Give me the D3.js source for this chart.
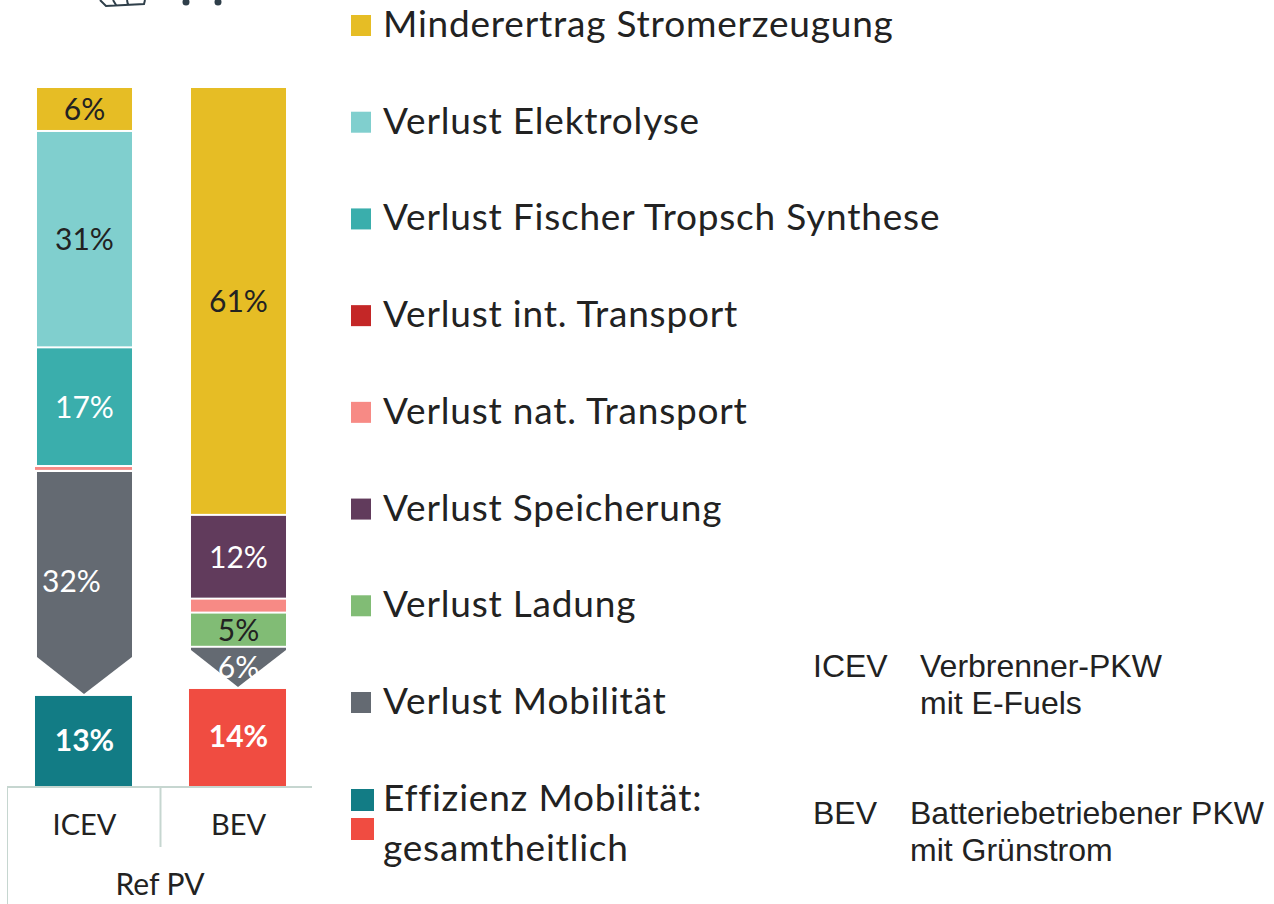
<!DOCTYPE html>
<html>
<head>
<meta charset="utf-8">
<script src="https://cdnjs.cloudflare.com/ajax/libs/d3/7.8.5/d3.min.js"></script>
<style>
  html, body { margin: 0; padding: 0; background: #fff; overflow: hidden; }
  text { font-family: Lato, "Open Sans", sans-serif; }
  .legend-label { letter-spacing: 0.8px; }
  .note { font-family: "Liberation Sans", sans-serif; fill: #222; font-size: 32px; }
</style>
</head>
<body>
<div id="chart-container"></div>
<script>
// Categories in legend order
const categories = [
  "Minderertrag Stromerzeugung",
  "Verlust Elektrolyse",
  "Verlust Fischer Tropsch Synthese",
  "Verlust int. Transport",
  "Verlust nat. Transport",
  "Verlust Speicherung",
  "Verlust Ladung",
  "Verlust Mobilität",
  "Effizienz Mobilität"
];
const vehicles = ["ICEV", "BEV"];
const groupLabel = "Ref PV";

// Values in percent, same order as categories
const icevValues = [6.3, 31, 17, 0, 0.7, 0, 0, 32.1, 12.9];
const bevValues = [61.3, 0, 0, 0, 2, 12, 4.9, 5.9, 13.9];

// BEV stacks storage above national transport, so the order differs from the legend
const icevOrder = [0, 1, 2, 3, 4, 5, 6, 7, 8];
const bevOrder = [0, 1, 2, 3, 5, 4, 6, 7, 8];

const colors = ["#e6bd25", "#80cfce", "#3aaeac", "#c42727", "#f78a85", "#613b5c", "#81bc75", "#646a72", "#127c85"];
const bevEfficiencyColor = "#f04c41";
const labelColors = ["#222", "#222", "#fff", "#fff", "#fff", "#fff", "#222", "#fff", "#fff"];

const legendLabels = categories.slice(0, 8);
const legendLastLines = ["Effizienz Mobilität:", "gesamtheitlich"];

const notes = [
  { key: "ICEV", lines: ["Verbrenner-PKW", "mit E-Fuels"] },
  { key: "BEV", lines: ["Batteriebetriebener PKW", "mit Grünstrom"] }
];

const width = 1274;
const height = 904;

const svg = d3.select("#chart-container")
  .append("svg")
  .attr("width", width)
  .attr("height", height);

const x = d3.scaleBand().domain(vehicles).range([7.5, 315.5]).paddingInner(0.383).paddingOuter(0.1915);
const y = d3.scaleLinear().domain([0, 100]).range([786, 88]);

const valuesByVehicle = { ICEV: icevValues, BEV: bevValues };
const orderByVehicle = { ICEV: icevOrder, BEV: bevOrder };
const arrowDepth = 37;
const pct = (v) => Math.round(v) + "%";

// Bars
vehicles.forEach((vehicle) => {
  const values = valuesByVehicle[vehicle];
  const barX = x(vehicle);
  const barW = x.bandwidth();
  let top = 100;

  orderByVehicle[vehicle].forEach((i) => {
    const value = values[i];
    if (value === 0) return;
    const y0 = y(top);
    const y1 = y(top - value);
    top -= value;
    const isEfficiency = i === 8;
    const isMobility = i === 7;
    const fill = isEfficiency && vehicle === "BEV" ? bevEfficiencyColor : colors[i];
    const left = isEfficiency || value < 1 ? barX - 2 : barX;
    const gap = isEfficiency ? 0 : 2;

    if (isMobility) {
      // Mobility loss is drawn as a downward arrow
      const mid = barX + barW / 2 - 0.5;
      const tip = y1 - gap;
      const shoulder = tip - arrowDepth;
      const points = [[barX, y0], [barX + barW, y0], [barX + barW, shoulder], [mid, tip], [barX, shoulder]];
      svg.append("polygon")
        .attr("points", points.map((p) => p.join(",")).join(" "))
        .attr("fill", fill);
    } else {
      svg.append("rect")
        .attr("x", left)
        .attr("y", y0)
        .attr("width", barX + barW - left)
        .attr("height", Math.max(1.5, y1 - y0 - gap))
        .attr("fill", fill);
    }

    if (value >= 4) {
      const labelX = vehicle === "ICEV" && isMobility ? barX + barW / 2 - 13 : barX + barW / 2;
      svg.append("text")
        .attr("x", labelX)
        .attr("y", isMobility ? (vehicle === "ICEV" ? y0 + 120 : y0 + 30) : (y0 + y1) / 2 + 10)
        .attr("text-anchor", "middle")
        .attr("fill", labelColors[i])
        .attr("font-size", 30)
        .attr("font-weight", isEfficiency ? 700 : 400)
        .text(pct(value));
    }
  });
});

// Category axis with the group box below it
const axisColor = "#c6d6d0";
svg.append("line").attr("x1", 7).attr("x2", 312).attr("y1", 787).attr("y2", 787).attr("stroke", axisColor).attr("stroke-width", 2);
svg.append("line").attr("x1", 160.5).attr("x2", 160.5).attr("y1", 787).attr("y2", 847).attr("stroke", axisColor).attr("stroke-width", 2);
svg.append("line").attr("x1", 7.5).attr("x2", 7.5).attr("y1", 787).attr("y2", 904).attr("stroke", axisColor).attr("stroke-width", 1);

vehicles.forEach((vehicle) => {
  svg.append("text")
    .attr("x", x(vehicle) + x.bandwidth() / 2)
    .attr("y", 835)
    .attr("text-anchor", "middle")
    .attr("fill", "#222")
    .attr("font-size", 29)
    .text(vehicle);
});
svg.append("text")
  .attr("x", 160).attr("y", 895)
  .attr("text-anchor", "middle")
  .attr("fill", "#222")
  .attr("font-size", 30)
  .text(groupLabel);

// Legend
const legendY = d3.scalePoint().domain(legendLabels).range([25, 702]);
legendLabels.forEach((label, i) => {
  const cy = legendY(label);
  svg.append("rect")
    .attr("x", 351).attr("y", cy - 10)
    .attr("width", 20).attr("height", 21)
    .attr("fill", colors[i]);
  svg.append("text")
    .attr("class", "legend-label")
    .attr("x", 383).attr("y", cy + 12)
    .attr("fill", "#222")
    .attr("font-size", 37)
    .text(label);
});
svg.append("rect").attr("x", 351).attr("y", 789).attr("width", 23).attr("height", 22).attr("fill", colors[8]);
svg.append("rect").attr("x", 351).attr("y", 818).attr("width", 23).attr("height", 22).attr("fill", bevEfficiencyColor);
legendLastLines.forEach((line, i) => {
  svg.append("text")
    .attr("class", "legend-label")
    .attr("x", 383).attr("y", 811 + i * 50)
    .attr("fill", "#222")
    .attr("font-size", 37)
    .text(line);
});

// Abbreviation notes
const noteRows = [
  { y: 677, textX: 920 },
  { y: 824, textX: 910 }
];
notes.forEach((note, i) => {
  svg.append("text").attr("class", "note").attr("x", 813).attr("y", noteRows[i].y).text(note.key);
  note.lines.forEach((line, j) => {
    svg.append("text").attr("class", "note")
      .attr("x", noteRows[i].textX)
      .attr("y", noteRows[i].y + j * 37)
      .text(line);
  });
});

// Cropped icon remains at the top edge
const iconColor = "#2f3f4a";
svg.append("path")
  .attr("d", "M100,0 L106,6 L144,4 L145,0 M113,0 L116,5 M127,0 L128,5")
  .attr("fill", "none").attr("stroke", iconColor).attr("stroke-width", 2);
[186, 218].forEach((cx) => {
  svg.append("circle").attr("cx", cx).attr("cy", 2).attr("r", 3.5).attr("fill", iconColor);
});
</script>
</body>
</html>
